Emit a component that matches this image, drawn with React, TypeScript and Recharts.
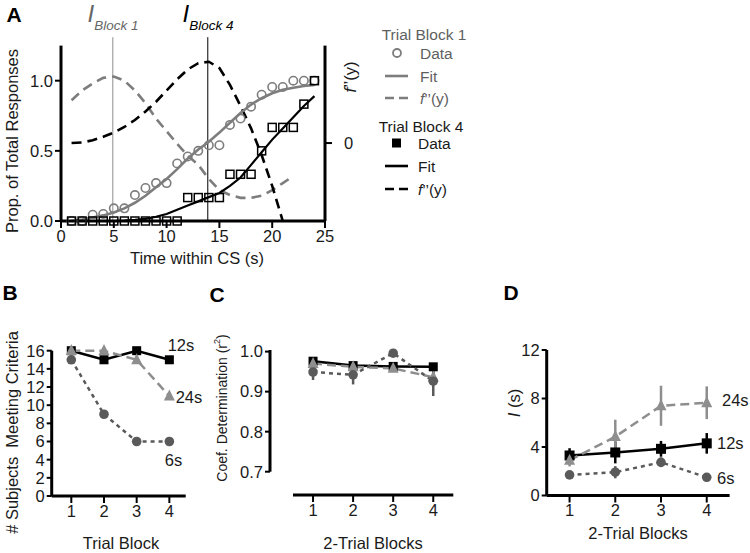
import React from "react";
import { ComposedChart, LineChart, Line, XAxis, YAxis, ReferenceLine, ErrorBar } from "recharts";

const FONT = "Arial, 'Liberation Sans', Helvetica, sans-serif";
const INK = "#1a1a1a";
const GRAY_A = "#7d7d7d";
const GRAY_24 = "#8e8e8e";
const GRAY_6 = "#5a5a5a";

// Panel A: response distribution within the CS (time in s)
const timeSec = [1, 2, 3, 4, 5, 6, 7, 8, 9, 10, 11, 12, 13, 14, 15, 16, 17, 18, 19, 20, 21, 22, 23, 24];
const block1Data = [0, 0, 0.045, 0.05, 0.09, 0.09, 0.185, 0.235, 0.27, 0.27, 0.41, 0.46, 0.5, 0.54, 0.54, 0.685, 0.73, 0.815, 0.9, 0.955, 0.955, 1.0, 1.0, 1.0];
const block1Fit = [0, 0.01, 0.025, 0.04, 0.06, 0.09, 0.13, 0.18, 0.24, 0.3, 0.37, 0.445, 0.51, 0.565, 0.63, 0.7, 0.77, 0.83, 0.875, 0.91, 0.935, 0.95, 0.962, 0.97];
const block1Curv = [0.548, 0.674, 0.764, 0.836, 0.854, 0.8, 0.674, 0.512, 0.314, 0.152, -0.01, -0.163, -0.28, -0.46, -0.604, -0.667, -0.703, -0.703, -0.676, -0.604, -0.514, -0.424];
const block4Data = [0, 0, 0, 0, 0, 0, 0, 0, 0, 0, 0, 0.167, 0.167, 0.167, 0.167, 0.333, 0.333, 0.333, 0.5, 0.667, 0.667, 0.667, 0.833, 1.0];
const block4Fit = [0, 0, 0, 0, 0, 0.003, 0.008, 0.015, 0.03, 0.05, 0.08, 0.11, 0.14, 0.17, 0.2, 0.25, 0.31, 0.4, 0.49, 0.58, 0.66, 0.74, 0.82, 0.89];
const block4Curv = [0, 0.008, 0.035, 0.08, 0.134, 0.206, 0.296, 0.404, 0.53, 0.674, 0.818, 0.944, 1.025, 1.043, 0.962, 0.746, 0.476, 0.188, -0.154, -0.55, -1.0];
const inflectB1 = 4.9;
const inflectB4 = 13.9;

// Panels B-D: by trial block, three CS durations
const blocks = [1, 2, 3, 4];
const met12 = [16, 15, 16, 15];
const met24 = [16, 16, 15, 11];
const met6 = [15, 9, 6, 6];

const r2_12 = [0.976, 0.965, 0.963, 0.962];
const r2_12Err = [0.006, 0.006, 0.005, 0.006];
const r2_24 = [0.97, 0.962, 0.958, 0.936];
const r2_24Err = [0.008, 0.006, 0.006, 0.02];
const r2_6 = [0.949, 0.942, 0.996, 0.926];
const r2_6Err = [0.02, 0.024, 0.008, 0.037];

const infl12 = [3.3, 3.55, 3.85, 4.3];
const infl12Err = [0.6, 0.9, 0.65, 0.85];
const infl24 = [2.9, 4.85, 7.4, 7.65];
const infl24Err = [0.5, 1.4, 1.65, 1.35];
const infl6 = [1.7, 1.92, 2.74, 1.5];
const infl6Err = [0.25, 0.5, 0.4, 0.35];

const rowsA = timeSec.map((t, i) => ({
  t,
  obs1: block1Data[i],
  fit1: block1Fit[i],
  d1: i < block1Curv.length ? block1Curv[i] : null,
  obs4: block4Data[i],
  fit4: block4Fit[i],
  d4: i < block4Curv.length ? block4Curv[i] : null,
}));
const rowsB = blocks.map((b, i) => ({ b, s12: met12[i], s24: met24[i], s6: met6[i] }));
const rowsC = blocks.map((b, i) => ({
  b, s12: r2_12[i], e12: r2_12Err[i], s24: r2_24[i], e24: r2_24Err[i], s6: r2_6[i], e6: r2_6Err[i],
}));
const rowsD = blocks.map((b, i) => ({
  b, s12: infl12[i], e12: infl12Err[i], s24: infl24[i], e24: infl24Err[i], s6: infl6[i], e6: infl6Err[i],
}));

const FS = 16.5;
const tickStyle = { fill: INK, fontSize: FS, fontFamily: FONT };
const axisLine = { stroke: "#000", strokeWidth: 3 };
const tickLine = { stroke: "#000", strokeWidth: 2 };

const empty = (p: any) => <g key={`e-${p.index}`} />;
const bad = (p: any) => p.cx == null || p.cy == null || isNaN(p.cy) || p.value == null;

const squareDot = (color: string, size: number, open = false) => (p: any) =>
  bad(p) ? empty(p) : (
    <rect key={`s-${p.index}`} x={p.cx - size / 2} y={p.cy - size / 2} width={size} height={size}
      fill={open ? "none" : color} stroke={color} strokeWidth={open ? 1.5 : 0} />
  );
const circleDot = (color: string, r: number, open = false) => (p: any) =>
  bad(p) ? empty(p) : (
    <circle key={`c-${p.index}`} cx={p.cx} cy={p.cy} r={r}
      fill={open ? "none" : color} stroke={color} strokeWidth={open ? 1.6 : 0} />
  );
const triDot = (color: string, s: number) => (p: any) =>
  bad(p) ? empty(p) : (
    <polygon key={`t-${p.index}`} fill={color}
      points={`${p.cx},${p.cy - s * 0.6} ${p.cx - s / 2},${p.cy + s * 0.4} ${p.cx + s / 2},${p.cy + s * 0.4}`} />
  );

const Txt = ({ x, y, children, size = FS, rotate = false, anchor = "middle", color = INK, weight = "normal" }: any) => (
  <text x={x} y={y} fontSize={size} fontFamily={FONT} fill={color} fontWeight={weight}
    textAnchor={anchor} dominantBaseline="central"
    transform={rotate ? `rotate(-90 ${x} ${y})` : undefined}>
    {children}
  </text>
);

const abs = (left: number, top: number): React.CSSProperties => ({ position: "absolute", left, top });

function PanelA() {
  return (
    <div style={abs(0, 0)}>
      <ComposedChart width={375} height={280} data={rowsA} margin={{ top: 45.6, right: 10, bottom: 29, left: 16 }}>
        <XAxis dataKey="t" type="number" domain={[0, 25]} ticks={[0, 5, 10, 15, 20, 25]} height={30}
          tickSize={7} interval={0} axisLine={axisLine} tickLine={tickLine} tick={tickStyle} />
        <YAxis yAxisId="l" domain={[0, 1.25]} ticks={[0, 0.5, 1]} width={45} tickSize={6} interval={0}
          tickFormatter={(v: number) => v.toFixed(1)} axisLine={axisLine} tickLine={tickLine} tick={tickStyle} />
        <YAxis yAxisId="r" orientation="right" domain={[-1, 1.25]} ticks={[0]} width={40} tickSize={7}
          tickMargin={12} axisLine={axisLine} tickLine={tickLine} tick={tickStyle} />
        <ReferenceLine yAxisId="l" segment={[{ x: inflectB1, y: 0 }, { x: inflectB1, y: 1.31 }]}
          stroke="#a8a8a8" strokeWidth={1.3} ifOverflow="visible" />
        <ReferenceLine yAxisId="l" segment={[{ x: inflectB4, y: 0 }, { x: inflectB4, y: 1.31 }]}
          stroke="#000" strokeWidth={1} ifOverflow="visible" />
        <Line yAxisId="r" dataKey="d1" stroke={GRAY_A} strokeWidth={2.6} strokeDasharray="10 6" dot={false} isAnimationActive={false} />
        <Line yAxisId="r" dataKey="d4" stroke="#000" strokeWidth={2.6} strokeDasharray="10 6" dot={false} isAnimationActive={false} />
        <Line yAxisId="l" dataKey="fit1" stroke={GRAY_A} strokeWidth={2.6} dot={false} isAnimationActive={false} />
        <Line yAxisId="l" dataKey="fit4" stroke="#000" strokeWidth={2.2} dot={false} isAnimationActive={false} />
        <Line yAxisId="l" dataKey="obs1" stroke="none" dot={circleDot(GRAY_A, 4.2, true)} isAnimationActive={false} />
        <Line yAxisId="l" dataKey="obs4" stroke="none" dot={squareDot("#000", 8, true)} isAnimationActive={false} />
      </ComposedChart>
    </div>
  );
}

const smallChart = (rows: any[], opts: any) => (
  <LineChart width={opts.w} height={273} data={rows} margin={opts.margin}>
    <XAxis dataKey="b" type="number" domain={opts.xDomain} ticks={blocks} height={30} tickSize={7} interval={0}
      padding={opts.xPad} axisLine={opts.xLine} tickLine={tickLine} tick={tickStyle} />
    <YAxis domain={opts.yDomain} ticks={opts.yTicks} width={opts.yWidth} tickSize={5} interval={0}
      padding={opts.yPad} tickFormatter={opts.fmt} axisLine={opts.yLine} tickLine={tickLine} tick={tickStyle} />
    <Line dataKey="s12" stroke="#000" strokeWidth={2.5} dot={squareDot("#000", opts.sq)} isAnimationActive={false}>
      {opts.err && <ErrorBar dataKey="e12" width={0} stroke="#000" strokeWidth={2.5} direction="y" />}
    </Line>
    <Line dataKey="s24" stroke={GRAY_24} strokeWidth={2.5} strokeDasharray="9 5" dot={triDot(GRAY_24, 11)} isAnimationActive={false}>
      {opts.err && <ErrorBar dataKey="e24" width={0} stroke={GRAY_24} strokeWidth={2.5} direction="y" />}
    </Line>
    <Line dataKey="s6" stroke={GRAY_6} strokeWidth={2.5} strokeDasharray="4 4" dot={circleDot(GRAY_6, 4.8)} isAnimationActive={false}>
      {opts.err && <ErrorBar dataKey="e6" width={0} stroke={GRAY_6} strokeWidth={2.5} direction="y" />}
    </Line>
  </LineChart>
);

function Overlay() {
  const fq = () => (
    <>
      <tspan fontStyle="italic">f</tspan>
      <tspan>{"\u2019\u2019(y)"}</tspan>
    </>
  );
  const leg = [
    { y: 53, kind: "circle", color: GRAY_A, text: "Data", tx: 420 },
    { y: 76, kind: "line", color: GRAY_A, text: "Fit", tx: 420 },
    { y: 98, kind: "dash", color: GRAY_A, text: "f", tx: 420 },
    { y: 143, kind: "square", color: "#000", text: "Data", tx: 418 },
    { y: 166, kind: "line", color: "#000", text: "Fit", tx: 418 },
    { y: 189, kind: "dash", color: "#000", text: "f", tx: 418 },
  ];
  return (
    <svg width={750} height={553} style={{ position: "absolute", left: 0, top: 0, pointerEvents: "none" }}>
      <Txt x={14} y={14} size={21} weight="bold" color="#000">A</Txt>
      <Txt x={10} y={292} size={21} weight="bold" color="#000">B</Txt>
      <Txt x={217} y={294} size={21} weight="bold" color="#000">C</Txt>
      <Txt x={511} y={292} size={21} weight="bold" color="#000">D</Txt>

      <text x={113} y={22} textAnchor="middle" fontFamily={FONT} fill="#666" fontStyle="italic">
        <tspan fontSize={24}>I</tspan>
        <tspan fontSize={13.5} dy={8}>Block 1</tspan>
      </text>
      <text x={208} y={22} textAnchor="middle" fontFamily={FONT} fill="#000" fontStyle="italic">
        <tspan fontSize={24}>I</tspan>
        <tspan fontSize={13.5} dy={8}>Block 4</tspan>
      </text>

      <Txt x={12} y={141} rotate>Prop. of Total Responses</Txt>
      <Txt x={197} y={258}>Time within CS (s)</Txt>
      <Txt x={350} y={77} rotate>{fq()}</Txt>

      <Txt x={424} y={34} size={15.5} color="#5f5f5f">Trial Block 1</Txt>
      <Txt x={421} y={126} size={15.5}>Trial Block 4</Txt>
      {leg.map((l, i) => {
        const color = l.color === "#000" ? INK : "#5f5f5f";
        return (
          <g key={i}>
            {l.kind === "circle" && <circle cx={397} cy={l.y} r={4} fill="none" stroke={l.color} strokeWidth={1.8} />}
            {l.kind === "square" && <rect x={392} y={l.y - 4.5} width={9} height={9} fill={l.color} />}
            {l.kind === "line" && <line x1={385} x2={408} y1={l.y} y2={l.y} stroke={l.color} strokeWidth={2.6} />}
            {l.kind === "dash" && <line x1={385} x2={408} y1={l.y} y2={l.y} stroke={l.color} strokeWidth={2.6} strokeDasharray="9 5" />}
            <Txt x={l.tx} y={l.y} size={15.5} anchor="start" color={color}>
              {l.text === "f" ? fq() : l.text}
            </Txt>
          </g>
        );
      })}

      <Txt x={12} y={432.5} rotate>{"# Subjects\u00a0 Meeting Criteria"}</Txt>
      <Txt x={121} y={543}>Trial Block</Txt>
      <Txt x={181} y={345}>12s</Txt>
      <Txt x={189} y={397}>24s</Txt>
      <Txt x={173.5} y={460}>6s</Txt>

      <Txt x={222} y={408} size={14} rotate>
        <tspan>Coef. Determination (r</tspan>
        <tspan fontSize={9} dy={-5}>2</tspan>
        <tspan dy={5}>)</tspan>
      </Txt>
      <Txt x={373} y={543}>2-Trial Blocks</Txt>

      <Txt x={514} y={403} rotate>
        <tspan fontStyle="italic">I</tspan>
        <tspan> (s)</tspan>
      </Txt>
      <Txt x={638} y={533}>2-Trial Blocks</Txt>
      <Txt x={722} y={400} anchor="start">24s</Txt>
      <Txt x={717} y={443} anchor="start">12s</Txt>
      <Txt x={717} y={478} anchor="start">6s</Txt>
    </svg>
  );
}

export default function App() {
  return (
    <div style={{ position: "absolute", left: 0, top: 0, width: 750, height: 553, background: "#fff", fontFamily: FONT }}>
      <PanelA />
      <div style={abs(0, 280)}>
        {smallChart(rowsB, {
          w: 220, margin: { top: 70.7, right: 34.3, bottom: 27, left: 11.7 },
          xDomain: [0.4, 4.5], yDomain: [0, 16], yTicks: [0, 2, 4, 6, 8, 10, 12, 14, 16],
          yWidth: 40, sq: 9, err: false, xLine: axisLine, yLine: axisLine,
        })}
      </div>
      <div style={abs(190, 280)}>
        {smallChart(rowsC, {
          w: 280, margin: { top: 70, right: 16.7, bottom: 28, left: 30 },
          xDomain: [0.5, 4.5], xPad: { left: 23, right: 0 }, yDomain: [0.7, 1.0], yPad: { top: 0, bottom: 23.3 },
          yTicks: [0.7, 0.8, 0.9, 1.0], fmt: (v: number) => v.toFixed(1), yWidth: 50, sq: 9, err: true,
          xLine: { ...axisLine, strokeDasharray: "0 23 1000" }, yLine: { ...axisLine, strokeDasharray: "121.7 500" },
        })}
      </div>
      <div style={abs(500, 280)}>
        {smallChart(rowsD, {
          w: 250, margin: { top: 70, right: 20.4, bottom: 27.5, left: 6.7 },
          xDomain: [0.5, 4.5], yDomain: [0, 12], yTicks: [0, 4, 8, 12],
          yWidth: 40, sq: 10, err: true, xLine: axisLine, yLine: axisLine,
        })}
      </div>
      <Overlay />
    </div>
  );
}
